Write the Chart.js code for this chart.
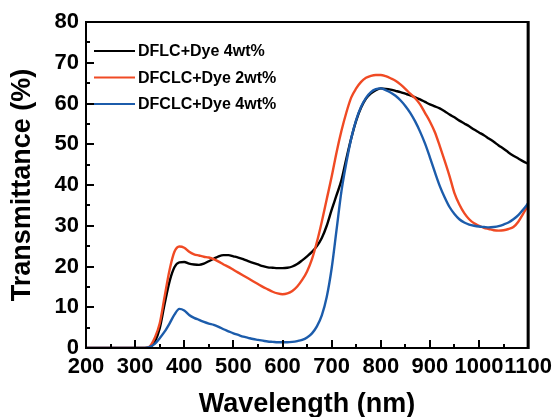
<!DOCTYPE html>
<html>
<head>
<meta charset="utf-8">
<script src="https://cdn.jsdelivr.net/npm/chart.js@4.4.1/dist/chart.umd.min.js"></script>
<style>
  html, body { margin: 0; padding: 0; background: #fff; }
  #wrap { width: 558px; height: 417px; }
</style>
</head>
<body>
<div id="wrap"><canvas id="spectra"></canvas></div>
<script>
// wavelength grid (nm)
var wavelength = [200, 250, 300,
  320, 330, 340, 350, 360, 370, 380, 390, 400, 410, 420, 430, 440, 450, 460, 470, 480, 490,
  500, 510, 520, 530, 540, 550, 560, 570, 580, 590, 600, 610, 620, 630, 640, 650, 660, 670,
  680, 690, 700, 710, 720, 730, 740, 750, 760, 770, 780, 790, 800, 810, 820, 830, 840, 850,
  860, 870, 880, 890, 900, 910, 920, 930, 940, 950, 960, 970, 980, 990, 1000, 1010, 1020,
  1030, 1040, 1050, 1060, 1070, 1080, 1090, 1100];

// transmittance (%)
var dflcDye4 = [0, 0, 0,
  0, 0.2, 1.5, 4.8, 10.8, 16.3, 19.8, 21.0, 21.1, 20.7, 20.5, 20.4, 20.7, 21.3, 21.9, 22.5, 22.8, 22.8,
  22.5, 22.2, 21.8, 21.3, 20.9, 20.5, 20.1, 19.8, 19.7, 19.6, 19.6, 19.7, 20.0, 20.6, 21.5, 22.5, 23.6, 25.0,
  27.0, 30.0, 33.9, 37.5, 41.2, 46.5, 51.5, 55.8, 59.0, 61.2, 62.5, 63.3, 63.7, 63.6, 63.4, 63.1, 62.8, 62.4,
  62.0, 61.5, 61.0, 60.4, 59.8, 59.3, 58.8, 58.1, 57.3, 56.6, 55.8, 55.1, 54.4, 53.6, 52.9, 52.2, 51.4,
  50.6, 49.7, 48.9, 48.0, 47.2, 46.5, 45.8, 45.2];

var dfclcDye2 = [0, 0, 0,
  0, 0.4, 2.5, 6.0, 12.6, 19.1, 23.6, 24.9, 24.6, 23.6, 23.0, 22.7, 22.4, 22.2, 21.8, 21.2, 20.5, 19.9,
  19.2, 18.5, 17.8, 17.1, 16.4, 15.7, 15.0, 14.4, 13.8, 13.4, 13.2, 13.4, 14.0, 15.1, 16.7, 18.8, 21.8, 26.0,
  31.0, 36.5, 42.0, 48.0, 53.3, 57.8, 61.5, 63.7, 65.3, 66.3, 66.8, 67.0, 67.0, 66.7, 66.2, 65.6, 64.7, 63.6,
  62.4, 61.3, 59.8, 57.7, 55.6, 53.0, 49.6, 46.0, 42.2, 38.0, 35.2, 33.1, 31.6, 30.6, 30.0, 29.5, 29.2,
  28.9, 28.8, 28.9, 29.2, 29.7, 31.0, 33.0, 35.0];

var dfclcDye4 = [0, 0, 0,
  0, 0.3, 1.0, 2.4, 4.0, 6.0, 8.2, 9.6, 9.2, 8.1, 7.4, 6.9, 6.4, 6.0, 5.7, 5.2, 4.6, 4.1,
  3.6, 3.2, 2.8, 2.5, 2.2, 2.0, 1.8, 1.6, 1.5, 1.4, 1.4, 1.4, 1.5, 1.7, 2.0, 2.6, 3.6, 5.3,
  8.0, 12.5, 19.5, 29.0, 38.5, 45.5, 51.5, 56.0, 59.2, 61.4, 62.8, 63.5, 63.7, 63.3, 62.7, 61.9, 60.8, 59.4,
  57.7, 55.6, 53.1, 50.2, 46.8, 43.2, 39.8, 37.0, 34.6, 32.9, 31.6, 30.8, 30.3, 30.0, 29.8, 29.7, 29.6,
  29.7, 29.9, 30.3, 30.8, 31.6, 32.6, 34.0, 35.5];

var seriesLabels = ['DFLC+Dye 4wt%', 'DFCLC+Dye 2wt%', 'DFCLC+Dye 4wt%'];
var seriesColors = ['#000000', '#f04a24', '#1c5cab'];

var FONT = "'Liberation Sans', Arial, sans-serif";

function points(ys) {
  return ys.map(function (y, i) { return { x: wavelength[i], y: y }; });
}

// box around the plot + inward major/minor ticks
var frameTicks = {
  id: 'frameTicks',
  afterDraw: function (chart) {
    var ctx = chart.ctx, a = chart.chartArea;
    var xs = chart.scales.x, ys = chart.scales.y;
    ctx.save();
    ctx.strokeStyle = '#000';
    ctx.lineWidth = 2;
    ctx.beginPath();
    var v, p, len;
    for (v = 200; v <= 1100; v += 50) {
      p = Math.round(xs.getPixelForValue(v));
      len = (v % 100 === 0) ? 8 : 4;
      ctx.moveTo(p, a.bottom);
      ctx.lineTo(p, a.bottom - len);
    }
    for (v = 0; v <= 80; v += 5) {
      p = Math.round(ys.getPixelForValue(v));
      len = (v % 10 === 0) ? 8 : 4;
      ctx.moveTo(a.left, p);
      ctx.lineTo(a.left + len, p);
    }
    ctx.stroke();
    ctx.strokeRect(a.left, a.top, a.right - a.left, a.bottom - a.top);
    ctx.lineWidth = 3;
    ctx.beginPath();
    ctx.moveTo(a.right, a.top - 1);
    ctx.lineTo(a.right, a.bottom + 1);
    ctx.stroke();
    ctx.restore();
  }
};

// legend in the upper-left corner of the plot
var cornerLegend = {
  id: 'cornerLegend',
  afterDraw: function (chart) {
    var ctx = chart.ctx, a = chart.chartArea;
    ctx.save();
    ctx.font = 'bold 16px ' + FONT;
    ctx.textBaseline = 'middle';
    ctx.textAlign = 'left';
    chart.data.datasets.forEach(function (ds, i) {
      var y = a.top + 29 + i * 26.5;
      ctx.strokeStyle = ds.borderColor;
      ctx.lineWidth = 2;
      ctx.beginPath();
      ctx.moveTo(a.left + 8, y);
      ctx.lineTo(a.left + 49, y);
      ctx.stroke();
      ctx.fillStyle = '#000';
      ctx.fillText(ds.label, a.left + 52, y + 1);
    });
    ctx.restore();
  }
};

new Chart(document.getElementById('spectra'), {
  type: 'line',
  data: {
    datasets: [
      { label: seriesLabels[0], data: points(dflcDye4), borderColor: seriesColors[0], order: 3 },
      { label: seriesLabels[1], data: points(dfclcDye2), borderColor: seriesColors[1], order: 2 },
      { label: seriesLabels[2], data: points(dfclcDye4), borderColor: seriesColors[2], order: 1 }
    ]
  },
  options: {
    responsive: true,
    maintainAspectRatio: false,
    animation: false,
    parsing: false,
    layout: { padding: { top: 22, right: 27, left: 0, bottom: 0 } },
    elements: {
      line: { borderWidth: 2.4, cubicInterpolationMode: 'monotone', fill: false },
      point: { radius: 0 }
    },
    plugins: {
      legend: { display: false },
      tooltip: { enabled: false }
    },
    scales: {
      x: {
        type: 'linear',
        min: 200,
        max: 1100,
        afterFit: function (s) { s.height = 69; },
        border: { display: false },
        grid: { display: false, drawTicks: false },
        ticks: {
          stepSize: 100,
          autoSkip: false,
          maxRotation: 0,
          padding: 6,
          color: '#000',
          font: { family: FONT, size: 22, weight: 'bold' },
          callback: function (v) { return String(v); }
        },
        title: {
          display: true,
          text: 'Wavelength (nm)',
          color: '#000',
          padding: { top: 0, bottom: -4 },
          font: { family: FONT, size: 27, weight: 'bold' }
        }
      },
      y: {
        min: 0,
        max: 80,
        afterFit: function (s) { s.width = 86; },
        border: { display: false },
        grid: { display: false, drawTicks: false },
        ticks: {
          stepSize: 10,
          padding: 7,
          color: '#000',
          font: { family: FONT, size: 22, weight: 'bold' }
        },
        title: {
          display: true,
          text: 'Transmittance (%)',
          color: '#000',
          padding: { top: 6, bottom: 0 },
          font: { family: FONT, size: 27, weight: 'bold' }
        }
      }
    }
  },
  plugins: [frameTicks, cornerLegend]
});
</script>
</body>
</html>
